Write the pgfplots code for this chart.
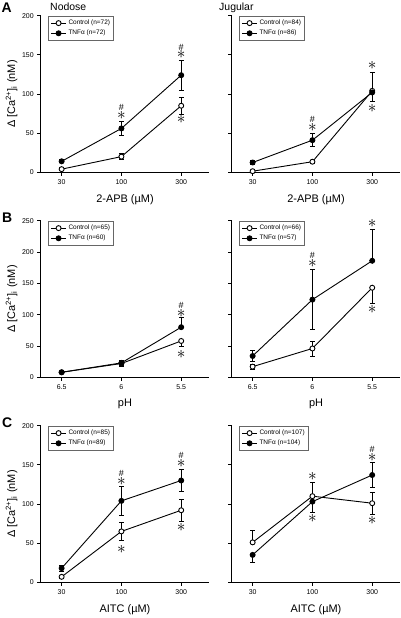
\documentclass[border=0pt]{standalone}
\usepackage{fontspec}
\setmainfont{Liberation Sans}
\usepackage{pgfplots}
\pgfplotsset{compat=1.18}
\tikzset{
 ast/.style={font=\fontsize{16}{16}\selectfont, inner sep=0pt},
 hsh/.style={font=\fontsize{9}{9}\selectfont, inner sep=0pt},
}
\begin{document}
\begin{tikzpicture}[x=1bp,y=1bp]
\path[use as bounding box] (0,0) rectangle (400,618);
\pgfplotsset{
 panel/.style={
  scale only axis, width=168.6bp, height=156.6bp, anchor=south west,
  axis x line*=bottom, axis y line*=left,
  axis line style={line width=1.2bp},
  xmin=-0.35, xmax=2.47, ymin=0,
  xtick={0,1,2},
  tick align=outside, major tick length=3.5bp,
  tick style={line width=0.9bp, black},
  ticklabel style={font=\fontsize{7}{8}\selectfont},
  /pgf/number format/assume math mode=true,
  clip=false,
  every axis x label/.style={at={(axis description cs:0.5,-0.172)}, anchor=center, font=\fontsize{11}{12}\selectfont},
  every axis y label/.style={at={(axis description cs:-0.173,0.5)}, rotate=90, anchor=center, font=\fontsize{11}{12}\selectfont},
  legend style={at={(axis description cs:0.045,1)}, anchor=north west, draw=black!60, line width=1.1bp, font=\fontsize{6.5}{7.5}\selectfont, inner sep=1.8bp, row sep=0bp},
  legend cell align=left,
  legend image code/.code={\draw[##1, mark repeat=2, mark phase=2] plot coordinates {(0bp,0bp) (7.5bp,0bp) (15bp,0bp)};},
  error bars/y dir=both, error bars/y explicit,
  error bars/error bar style={line width=0.9bp, black},
  error bars/error mark options={rotate=90, line width=0.9bp, mark size=2.4bp},
 },
 ctl/.style={black, line width=0.9bp, mark=*, mark size=2.5bp, mark options={fill=white, line width=0.9bp}},
 tnf/.style={black, line width=0.9bp, mark=*, mark size=2.5bp, mark options={fill=black}},
}
% panel letters and titles
\node[anchor=base west, font=\fontsize{14}{14}\selectfont\bfseries, inner sep=0pt] at (1.5,605.3) {A};
\node[anchor=base west, font=\fontsize{14}{14}\selectfont\bfseries, inner sep=0pt] at (2,395.7) {B};
\node[anchor=base west, font=\fontsize{14}{14}\selectfont\bfseries, inner sep=0pt] at (2,190.7) {C};
\node[anchor=base west, font=\fontsize{10.5}{11}\selectfont, inner sep=0pt] at (50,607.7) {Nodose};
\node[anchor=base west, font=\fontsize{10.5}{11}\selectfont, inner sep=0pt] at (219,607.7) {Jugular};

% ---------- A left ----------
\begin{axis}[panel, at={(40.7bp,445.7bp)}, ymax=200, ytick={0,50,...,200},
  xticklabels={30,100,300}, xlabel={2-APB (µM)},
  ylabel={Δ [Ca\textsuperscript{2+}]\textsubscript{i} (nM)}]
\addplot[ctl] coordinates {(0,4) +- (0,2) (1,20) +- (0,3.5) (2,85) +- (0,11)};
\addlegendentry{Control (n=72)}
\addplot[tnf] coordinates {(0,14) +- (0,2) (1,56) +- (0,9) (2,124) +- (0,19)};
\addlegendentry{TNFα (n=72)}
\node[ast] at (axis cs:1,73) {$\ast$};
\node[hsh] at (axis cs:1,83) {\#};
\node[ast] at (axis cs:2,150) {$\ast$};
\node[hsh] at (axis cs:2,160) {\#};
\node[ast] at (axis cs:2,67) {$\ast$};
\end{axis}

% ---------- A right ----------
\begin{axis}[panel, at={(231.7bp,445.7bp)}, ymax=200, ytick={0,50,...,200}, yticklabels={},
  xticklabels={30,100,300}, xlabel={2-APB (µM)}]
\addplot[ctl] coordinates {(0,1.4) +- (0,1) (1,13.5) +- (0,2) (2,104) += (0,0) -= (0,14)};
\addlegendentry{Control (n=84)}
\addplot[tnf] coordinates {(0,12.5) +- (0,2) (1,41) +- (0,8) (2,102) += (0,26) -= (0,0)};
\addlegendentry{TNFα (n=86)}
\node[ast] at (axis cs:1,57) {$\ast$};
\node[hsh] at (axis cs:1,67) {\#};
\node[ast] at (axis cs:2,136) {$\ast$};
\node[ast] at (axis cs:2,81) {$\ast$};
\end{axis}

% ---------- B left ----------
\begin{axis}[panel, at={(40.7bp,240.7bp)}, ymax=250, ytick={0,50,...,250},
  xticklabels={6.5,6,5.5}, xlabel={pH},
  ylabel={Δ [Ca\textsuperscript{2+}]\textsubscript{i} (nM)}]
\addplot[ctl] coordinates {(0,8) +- (0,1) (1,22) +- (0,5) (2,58) += (0,0) -= (0,9)};
\addlegendentry{Control (n=65)}
\addplot[tnf] coordinates {(0,8) +- (0,1) (1,23) +- (0,4) (2,80) += (0,15) -= (0,0)};
\addlegendentry{TNFα (n=60)}
\node[ast] at (axis cs:2,102) {$\ast$};
\node[hsh] at (axis cs:2,115.5) {\#};
\node[ast] at (axis cs:2,36) {$\ast$};
\end{axis}

% ---------- B right ----------
\begin{axis}[panel, at={(231.7bp,240.7bp)}, ymax=250, ytick={0,50,...,250}, yticklabels={},
  xticklabels={6.5,6,5.5}, xlabel={pH}]
\addplot[ctl] coordinates {(0,17) +- (0,4) (1,46) +- (0,12) (2,143) += (0,0) -= (0,25)};
\addlegendentry{Control (n=66)}
\addplot[tnf] coordinates {(0,34) +- (0,9) (1,124) +- (0,48) (2,186) += (0,50) -= (0,0)};
\addlegendentry{TNFα (n=57)}
\node[ast] at (axis cs:1,182) {$\ast$};
\node[hsh] at (axis cs:1,195) {\#};
\node[ast] at (axis cs:2,245) {$\ast$};
\node[ast] at (axis cs:2,107.5) {$\ast$};
\end{axis}

% ---------- C left ----------
\begin{axis}[panel, at={(40.7bp,35.7bp)}, ymax=200, ytick={0,50,...,200},
  xticklabels={30,100,300}, xlabel={AITC (µM)},
  ylabel={Δ [Ca\textsuperscript{2+}]\textsubscript{i} (nM)}]
\addplot[ctl] coordinates {(0,7) +- (0,2) (1,65) +- (0,12) (2,92) +- (0,14)};
\addlegendentry{Control (n=85)}
\addplot[tnf] coordinates {(0,18) +- (0,4) (1,104) +- (0,18.5) (2,130) +- (0,14.5)};
\addlegendentry{TNFα (n=89)}
\node[ast] at (axis cs:1,129) {$\ast$};
\node[hsh] at (axis cs:1,139) {\#};
\node[ast] at (axis cs:2,152) {$\ast$};
\node[hsh] at (axis cs:2,162) {\#};
\node[ast] at (axis cs:1,42) {$\ast$};
\node[ast] at (axis cs:2,70) {$\ast$};
\end{axis}

% ---------- C right ----------
\begin{axis}[panel, at={(231.7bp,35.7bp)}, ymax=200, ytick={0,50,...,200}, yticklabels={},
  xticklabels={30,100,300}, xlabel={AITC (µM)}]
\addplot[ctl] coordinates {(0,51) += (0,15) -= (0,0) (1,110) += (0,17) -= (0,0) (2,101) +- (0,14)};
\addlegendentry{Control (n=107)}
\addplot[tnf] coordinates {(0,35) += (0,0) -= (0,9.5) (1,103) += (0,0) -= (0,14) (2,137) +- (0,16)};
\addlegendentry{TNFα (n=104)}
\node[ast] at (axis cs:1,135) {$\ast$};
\node[ast] at (axis cs:1,82) {$\ast$};
\node[ast] at (axis cs:2,159.6) {$\ast$};
\node[hsh] at (axis cs:2,170) {\#};
\node[ast] at (axis cs:2,79) {$\ast$};
\end{axis}
\end{tikzpicture}
\end{document}
